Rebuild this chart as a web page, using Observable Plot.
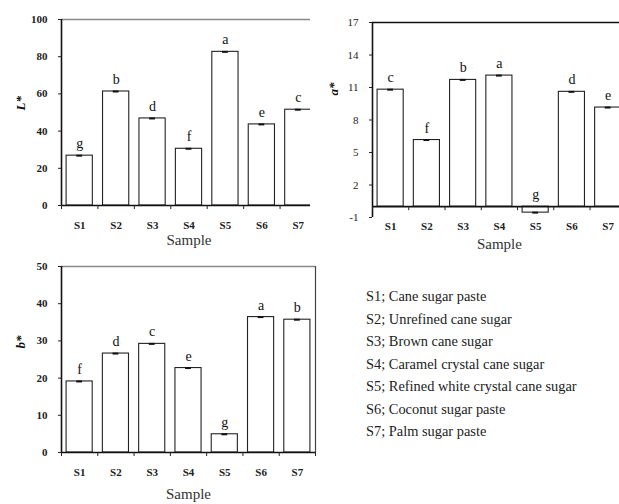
<!DOCTYPE html>
<html>
<head>
<meta charset="utf-8">
<script src="https://cdn.jsdelivr.net/npm/d3@7"></script>
<script src="https://cdn.jsdelivr.net/npm/@observablehq/plot@0.6"></script>
<style>
  html, body { margin: 0; padding: 0; background: #fff; }
  #wrap { position: relative; width: 619px; height: 504px; overflow: hidden; background: #fff; }
  .panel { position: absolute; }
  .panel svg { max-width: none !important; }
  #legend { position: absolute; left: 366px; top: 285px; font-family: "Liberation Serif", serif; font-size: 14.4px; line-height: 22.5px; color: #222; white-space: nowrap; }
</style>
</head>
<body>
<div id="wrap"></div>
<script>
const samples = ["S1", "S2", "S3", "S4", "S5", "S6", "S7"];

const lValues = [26.8, 61.3, 46.8, 30.5, 82.6, 43.6, 51.5];
const lLetters = ["g", "b", "d", "f", "a", "e", "c"];

const aValues = [10.8, 6.15, 11.7, 12.1, -0.55, 10.6, 9.15];
const aLetters = ["c", "f", "b", "a", "g", "d", "e"];

const bValues = [19.1, 26.6, 29.2, 22.7, 4.9, 36.4, 35.7];
const bLetters = ["f", "d", "c", "e", "g", "a", "b"];

const lTicks = [0, 20, 40, 60, 80, 100];
const aTicks = [-1, 2, 5, 8, 11, 14, 17];
const bTicks = [0, 10, 20, 30, 40, 50];

const legendLines = [
  "S1; Cane sugar paste",
  "S2; Unrefined cane sugar",
  "S3; Brown cane sugar",
  "S4; Caramel crystal cane sugar",
  "S5; Refined white crystal cane sugar",
  "S6; Coconut sugar paste",
  "S7; Palm sugar paste"
];

const serif = "'Liberation Serif', 'DejaVu Serif', serif";

function panel(cfg) {
  const data = samples.map((s, i) => ({s, i, v: cfg.values[i], letter: cfg.letters[i]}));
  const bounds = d3.range(0, samples.length + 1);
  const centers = samples.map((s, i) => i + 0.5);
  const yMin = cfg.ticks[0], yMax = cfg.ticks[cfg.ticks.length - 1];
  return Plot.plot({
    width: cfg.width,
    height: cfg.height,
    marginLeft: cfg.ml,
    marginRight: cfg.mr,
    marginTop: cfg.mt,
    marginBottom: cfg.mb,
    style: {fontFamily: serif, color: "#222", background: "white", overflow: "visible"},
    x: {type: "linear", domain: [0, samples.length], axis: null},
    y: {domain: [yMin, yMax], range: cfg.yRange, axis: null},
    marks: [
      Plot.ruleY([yMax], {stroke: cfg.topColor, strokeWidth: cfg.topWidth, x1: 0, x2: samples.length}),
      Plot.ruleX([samples.length], {stroke: "#444", strokeWidth: 1.2, y1: 0, y2: yMax}),
      Plot.rect(data, {x1: d => d.i + 0.14, x2: d => d.i + 0.86, y1: 0, y2: "v", fill: "white", stroke: "#222", strokeWidth: 1.1}),
      Plot.ruleY(data, {y: "v", x1: d => d.i + 0.42, x2: d => d.i + 0.58, stroke: "#111", strokeWidth: 2}),
      Plot.text(data, {x: d => d.i + 0.5, y: d => Math.max(d.v, 0), text: "letter", dy: -12, fontSize: 14, fontFamily: serif, fill: "#111"}),
      Plot.ruleX([0], {y1: yMin, y2: yMax, stroke: "#111", strokeWidth: 1.6}),
      Plot.ruleY([0], {stroke: "#111", strokeWidth: 1.6}),
      Plot.axisY({ticks: cfg.ticks, tickSize: 3, tickPadding: 11, fontSize: 11, fontWeight: cfg.tickBold ? "bold" : "normal", label: null, tickFormat: d => String(d)}),
      Plot.axisX({ticks: bounds, tickSize: 4, tickFormat: () => "", label: null}),
      Plot.axisX({ticks: centers, tickSize: 0, tickPadding: 16, fontSize: 11, fontWeight: "bold", tickFormat: d => samples[Math.floor(d)], label: null}),
      Plot.text([cfg.yLabel], {frameAnchor: "left", dx: cfg.yLabelDx, dy: cfg.yLabelDy, rotate: -90, fontSize: 13, fontStyle: "italic", fontWeight: "bold", fontFamily: serif, fill: "#111"}),
      Plot.text(["Sample"], {frameAnchor: "bottom", dy: cfg.sampleDy, fontSize: 15, fontFamily: serif, fill: "#333"})
    ]
  });
}

const wrap = document.getElementById("wrap");

function place(svg, left, top, width) {
  const d = document.createElement("div");
  d.className = "panel";
  d.style.left = left + "px";
  d.style.top = top + "px";
  d.style.width = width + "px";
  d.appendChild(svg);
  wrap.appendChild(d);
}

place(panel({
  values: lValues, letters: lLetters, ticks: lTicks, yLabel: "L*",
  width: 330, height: 260, ml: 61, mr: 14, mt: 19, mb: 55, yRange: [205, 19],
  topColor: "#888", topWidth: 1.5, tickBold: true,
  yLabelDx: -41, yLabelDy: -2, sampleDy: 39
}), 0, 0, 330);

place(panel({
  values: aValues, letters: aLetters, ticks: aTicks, yLabel: "a*",
  width: 320, height: 260, ml: 62, mr: 4.2, mt: 22, mb: 260 - (217 - 195 / 18), yRange: [217, 22],
  topColor: "#111", topWidth: 1.6, tickBold: false,
  yLabelDx: -39, yLabelDy: -19, sampleDy: 42
}), 310, 0, 320);

place(panel({
  values: bValues, letters: bLetters, ticks: bTicks, yLabel: "b*",
  width: 330, height: 254, ml: 61, mr: 15, mt: 16, mb: 52, yRange: [202, 16],
  topColor: "#888", topWidth: 1.5, tickBold: true,
  yLabelDx: -41, yLabelDy: -11, sampleDy: 46
}), 0, 250, 330);

const legend = document.createElement("div");
legend.id = "legend";
legendLines.forEach(t => {
  const l = document.createElement("div");
  l.textContent = t;
  legend.appendChild(l);
});
wrap.appendChild(legend);
</script>
</body>
</html>
